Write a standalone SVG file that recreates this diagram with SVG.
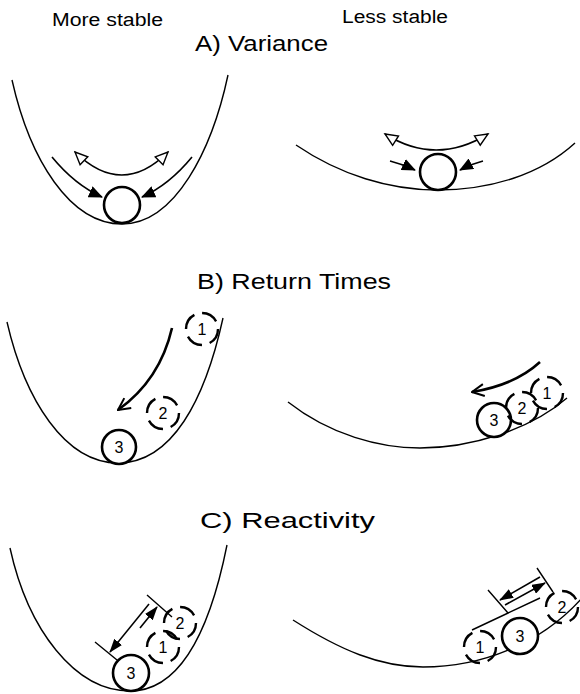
<svg xmlns="http://www.w3.org/2000/svg" width="580" height="694" viewBox="0 0 580 694">
<style>
.well{fill:none;stroke:#000;stroke-width:1.4}
.ball{fill:#fff;stroke:#000;stroke-width:2.6}
.dash{fill:none;stroke:#000;stroke-width:2.4;stroke-dasharray:17 8}
.num{font-family:"Liberation Sans",Arial,sans-serif;font-size:16px;text-anchor:middle;fill:#000}
.head{font-family:"Liberation Sans",Arial,sans-serif;fill:#000}
.arr{fill:none;stroke:#000;stroke-width:1.6}
.thick{fill:none;stroke:#000;stroke-width:2.6}
.bar{fill:none;stroke:#000;stroke-width:1.4}
</style>
<defs>
<marker id="fillhead" viewBox="0 0 14 12" refX="13" refY="6" markerWidth="14" markerHeight="12" markerUnits="userSpaceOnUse" orient="auto"><path d="M0,0 L14,6 L0,12 z" fill="#000"/></marker>
<marker id="hollow" viewBox="0 0 16 14" refX="14" refY="7" markerWidth="16" markerHeight="14" markerUnits="userSpaceOnUse" orient="auto-start-reverse"><path d="M1.5,1.5 L14,7 L1.5,12.5 z" fill="#fff" stroke="#000" stroke-width="1.4"/></marker>
<marker id="vhead" viewBox="0 0 14 14" refX="13" refY="7" markerWidth="14" markerHeight="14" markerUnits="userSpaceOnUse" orient="auto"><path d="M1,1 L13,7 L1,13" fill="none" stroke="#000" stroke-width="2"/></marker>
<marker id="dimhead" viewBox="0 0 14 10" refX="13" refY="5" markerWidth="14" markerHeight="10" markerUnits="userSpaceOnUse" orient="auto"><path d="M0,0 L14,5 L0,10 z" fill="#000"/></marker>
</defs>

<g id="labels">
<text class="head" x="52" y="26" font-size="18" textLength="111" lengthAdjust="spacingAndGlyphs">More stable</text>
<text class="head" x="342" y="23" font-size="18" textLength="106" lengthAdjust="spacingAndGlyphs">Less stable</text>
<text class="head" x="195" y="51" font-size="22" textLength="133" lengthAdjust="spacingAndGlyphs">A) Variance</text>
<text class="head" x="197" y="289" font-size="22" textLength="194" lengthAdjust="spacingAndGlyphs">B) Return Times</text>
<text class="head" x="200" y="528" font-size="22" textLength="175" lengthAdjust="spacingAndGlyphs">C) Reactivity</text>
</g>

<g id="wells">
<path id="wellA1" class="well" d="M12,80 C30,160 70,224 122,224 C175,224 212,150 228,75"/>
<path id="wellA2" class="well" d="M296,145 C340,175 390,190 437,190 C490,190 540,175 575,143"/>
<path id="wellB1" class="well" d="M7,322 C25,400 65,463 118,463 C172,463 205,400 223,318"/>
<path id="wellB2" class="well" d="M288,402 C330,435 380,448 420,448 C470,448 530,430 567,398"/>
<path id="wellC1" class="well" d="M10,548 C28,630 75,691 130,691 C180,691 210,630 227,545"/>
<path id="wellC2" class="well" d="M293,620 C340,650 380,667 423,667 C480,667 540,645 582,598"/>
</g>

<g id="balls">
<g id="A1ball"><circle class="ball" cx="122" cy="205" r="18"/></g>
<g id="A2ball"><circle class="ball" cx="438" cy="172" r="18"/></g>
<g id="B1ball1"><circle class="dash" cx="202" cy="329" r="16"/><text class="num" x="202" y="335">1</text></g>
<g id="B1ball2"><circle class="dash" cx="163" cy="413" r="16"/><text class="num" x="163" y="419">2</text></g>
<g id="B1ball3"><circle class="ball" cx="119" cy="447" r="17"/><text class="num" x="119" y="453">3</text></g>
<g id="B2ball3"><circle class="ball" cx="494" cy="420" r="17"/><text class="num" x="494" y="426">3</text></g>
<g id="B2ball2"><circle class="dash" cx="522" cy="408" r="16"/><text class="num" x="522" y="414">2</text></g>
<g id="B2ball1"><circle class="dash" cx="547" cy="393" r="16"/><text class="num" x="547" y="399">1</text></g>
<g id="C1ball3"><circle class="ball" cx="131" cy="673" r="18"/><text class="num" x="131" y="679">3</text></g>
<g id="C1ball1"><circle class="dash" cx="163" cy="647" r="16"/><text class="num" x="163" y="653">1</text></g>
<g id="C1ball2"><circle class="dash" cx="180" cy="623" r="16"/><text class="num" x="180" y="629">2</text></g>
<g id="C2ball1"><circle class="dash" cx="480" cy="647" r="16"/><text class="num" x="480" y="653">1</text></g>
<g id="C2ball3"><circle class="ball" cx="520" cy="636" r="18"/><text class="num" x="520" y="642">3</text></g>
<g id="C2ball2"><circle class="dash" cx="562" cy="607" r="16"/><text class="num" x="562" y="613">2</text></g>
</g>

<g id="connectors">
<path class="arr" d="M75,152 Q122,198 168,152" marker-start="url(#hollow)" marker-end="url(#hollow)"/>
<path class="arr" d="M52,157 Q75,185 102,197" marker-end="url(#fillhead)"/>
<path class="arr" d="M192,157 Q169,185 142,197" marker-end="url(#fillhead)"/>
<path class="arr" d="M385,134 Q436,166 488,134" marker-start="url(#hollow)" marker-end="url(#hollow)"/>
<path class="arr" d="M390,161 Q402,164 415,170" marker-end="url(#fillhead)"/>
<path class="arr" d="M483,161 Q471,164 460,170" marker-end="url(#fillhead)"/>
<path class="thick" d="M172,328 Q160,380 118,410" marker-end="url(#vhead)"/>
<path class="thick" d="M540,362 Q515,385 472,392" marker-end="url(#vhead)"/>
<path class="bar" d="M147,595 L172,617 M95,642 L117,660"/>
<path class="arr" d="M149,604 L110,652" marker-end="url(#dimhead)"/>
<path class="arr" d="M140,628 L157,607" marker-end="url(#dimhead)"/>
<path class="bar" d="M488,590 L508,613 M537,568 L553,592 M472,630 L540,598"/>
<path class="arr" d="M540,577 L500,600" marker-end="url(#dimhead)"/>
<path class="arr" d="M505,605 L545,583" marker-end="url(#dimhead)"/>
</g>
</svg>
